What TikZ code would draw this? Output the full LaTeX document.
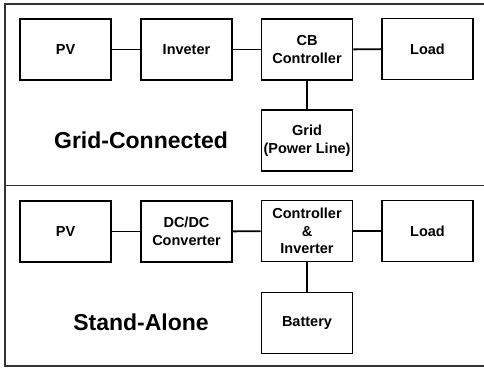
\documentclass[tikz,border=0pt]{standalone}
\usepackage{fontspec}
\setmainfont{Liberation Sans}
\begin{document}
\begin{tikzpicture}[x=1pt,y=-1pt,
  blk/.style={draw=black,line width=1.6pt,minimum width=91pt,minimum height=61pt,inner sep=0pt,
    align=center,font=\fontsize{14.5}{17.5}\selectfont\bfseries},
  wire/.style={line width=1.9pt},
  frame/.style={line width=1.3pt,draw=black!80},
  title/.style={font=\fontsize{23}{27}\selectfont\bfseries}]
\useasboundingbox (0,0) rectangle (484,368);
% frame
\draw[frame] (484,4) -- (5,4) -- (5,366) -- (484,366);
\draw[frame] (5,185.5) -- (484,185.5);
% top section
\node[blk] (pv1) at (65.5,49.5) {PV};
\node[blk] (inv1) at (186.5,49.5) {Inveter};
\node[blk] (cb) at (307,49.5) {CB\\Controller};
\node[blk] (load1) at (427.5,49) {Load};
\node[blk] (grid) at (307,140.5) {Grid\\(Power Line)};
\draw[wire] (pv1) -- (inv1);
\draw[wire] (inv1) -- (cb);
\draw[wire] (cb) -- (load1);
\draw[wire] (cb) -- (grid);
\node[title] (t1) at (141,140) {Grid-Connected};
% bottom section
\node[blk] (pv2) at (65.5,231.5) {PV};
\node[blk] (dc) at (186.5,231.5) {DC/DC\\Converter};
\node[blk] (ci) at (307,231) {Controller\\\&\\Inverter};
\node[blk] (load2) at (427.5,231) {Load};
\node[blk] (bat) at (307,323) {Battery};
\draw[wire] (pv2) -- (dc);
\draw[wire] (dc) -- (ci);
\draw[wire] (ci) -- (load2);
\draw[wire] (ci) -- (bat);
\node[title] (t2) at (141,322) {Stand-Alone};
\end{tikzpicture}
\end{document}
